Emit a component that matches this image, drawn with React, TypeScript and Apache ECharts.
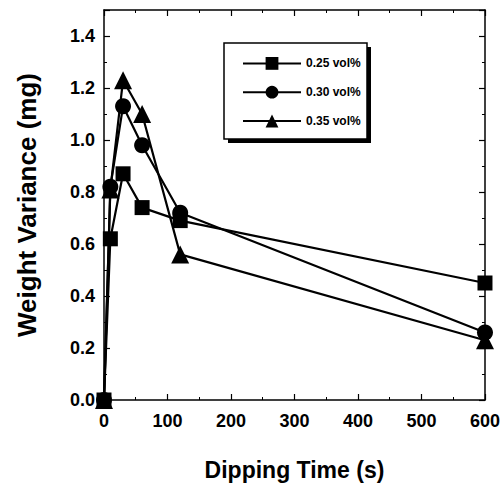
import React, { useEffect, useRef } from "react";
import * as echarts from "echarts";

const dippingTime = [0, 10, 30, 60, 120, 600];
const vol025 = [0, 0.62, 0.87, 0.74, 0.69, 0.45];
const vol030 = [0, 0.82, 1.13, 0.98, 0.72, 0.26];
const vol035 = [0, 0.81, 1.23, 1.1, 0.56, 0.23];
const seriesNames = ["0.25 vol%", "0.30 vol%", "0.35 vol%"];
const xTitle = "Dipping Time (s)";
const yTitle = "Weight Variance (mg)";

const FONT = "'Liberation Sans', Arial, Helvetica, sans-serif";

export default function App() {
  const ref = useRef<HTMLDivElement>(null);
  useEffect(() => {
    if (!ref.current) return;
    const chart = echarts.init(ref.current, undefined, { renderer: "svg" });
    const pair = (ys: number[]) => dippingTime.map((x, i) => [x, ys[i]]);
    const axisLine = { show: true, onZero: false, lineStyle: { color: "#000", width: 1.5 } };
    const tick = { show: true, inside: true, length: 6, lineStyle: { color: "#000", width: 1.2 } };
    const minor = { show: true, splitNumber: 2, length: 3, lineStyle: { color: "#000", width: 1 } };
    const labelStyle = { color: "#000", fontFamily: FONT, fontWeight: "bold" as const, fontSize: 18 };
    const lineStyle = { color: "#000", width: 2.2 };
    const common = {
      type: "line" as const,
      showSymbol: true,
      itemStyle: { color: "#000" },
      lineStyle,
    };
    chart.setOption({
      animation: false,
      backgroundColor: "#fff",
      grid: { left: 104, right: 17, top: 10, bottom: 85, containLabel: false },
      xAxis: [
        {
          type: "value",
          min: 0,
          max: 600,
          interval: 100,
          position: "bottom",
          axisLine,
          axisTick: tick,
          minorTick: minor,
          splitLine: { show: false },
          axisLabel: { ...labelStyle, margin: 12 },
          name: xTitle,
          nameLocation: "middle",
          nameGap: 58,
          nameTextStyle: { color: "#000", fontFamily: FONT, fontWeight: "bold", fontSize: 23 },
        },
        {
          type: "value",
          min: 0,
          max: 600,
          interval: 100,
          position: "top",
          axisLine,
          axisTick: tick,
          minorTick: minor,
          splitLine: { show: false },
          axisLabel: { show: false },
        },
      ],
      yAxis: [
        {
          type: "value",
          min: 0,
          max: 1.5,
          interval: 0.2,
          position: "left",
          axisLine,
          axisTick: tick,
          minorTick: minor,
          splitLine: { show: false },
          axisLabel: {
            ...labelStyle,
            margin: 9,
            formatter: (v: number) =>
              Math.abs(v / 0.2 - Math.round(v / 0.2)) < 1e-6 ? v.toFixed(1) : "",
          },
          name: yTitle,
          nameLocation: "middle",
          nameGap: 64,
          nameRotate: 90,
          nameTextStyle: { color: "#000", fontFamily: FONT, fontWeight: "bold", fontSize: 26 },
        },
        {
          type: "value",
          min: 0,
          max: 1.5,
          interval: 0.2,
          position: "right",
          axisLine,
          axisTick: tick,
          minorTick: minor,
          splitLine: { show: false },
          axisLabel: { show: false },
        },
      ],
      graphic: [
        { type: "rect", z: 1, shape: { x: 228, y: 47, width: 143, height: 96 }, style: { fill: "#000" } },
        {
          type: "rect",
          z: 1,
          shape: { x: 224, y: 43, width: 143, height: 96 },
          style: { fill: "#fff", stroke: "#000", lineWidth: 1.5 },
        },
      ],
      legend: {
        show: true,
        orient: "vertical",
        left: 242,
        top: 57,
        padding: 0,
        itemWidth: 58,
        itemHeight: 16,
        itemGap: 16,
        z: 5,
        data: seriesNames,
        textStyle: { color: "#000", fontFamily: FONT, fontWeight: "bold", fontSize: 12 },
      },
      series: [
        { ...common, name: seriesNames[0], data: pair(vol025), symbol: "rect", symbolSize: 15, z: 3 },
        { ...common, name: seriesNames[1], data: pair(vol030), symbol: "circle", symbolSize: 16, z: 5 },
        { ...common, name: seriesNames[2], data: pair(vol035), symbol: "triangle", symbolSize: 18, z: 4 },
      ],
    });
    return () => chart.dispose();
  }, []);
  return (
    <div
      ref={ref}
      style={{ position: "absolute", left: 0, top: 0, width: 503, height: 486 }}
    />
  );
}
